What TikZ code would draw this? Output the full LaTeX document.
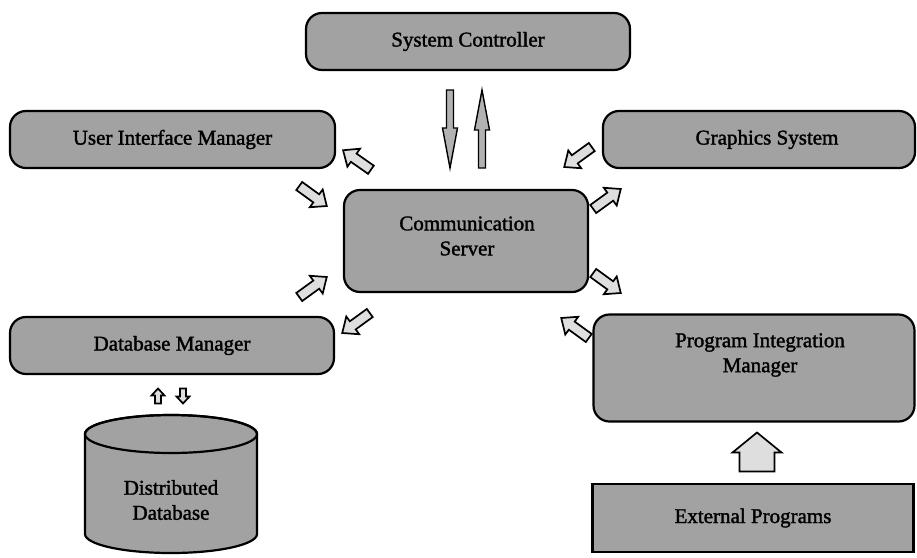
\documentclass[tikz,border=0pt]{standalone}
\usepackage{fontspec}
\setmainfont{Liberation Serif}
\newfontfamily\labelfont{Liberation Serif}[FakeBold=1.6]
\definecolor{boxgray}{RGB}{162,162,162}
\definecolor{arrowfill}{RGB}{222,222,222}
\begin{document}
\begin{tikzpicture}[x=1pt,y=-1pt,
  box/.style={draw=black, line width=2.2pt, rounded corners=16pt, fill=boxgray,
    inner sep=0pt, font=\labelfont\fontsize{21}{25}\selectfont, align=center},
  plainbox/.style={box, rounded corners=0pt},
  label/.style={inner sep=0pt, font=\labelfont\fontsize{21}{25}\selectfont, align=center},
  arrowline/.style={draw=black, line width=1.6pt, fill=arrowfill, line join=miter},
  % block arrow pointing along +x: length, shaft half width, head half width, head length
  pics/blockarrow/.style n args={4}{code={
    \filldraw[arrowline]
      (-#1/2,-#2) -- (#1/2-#4,-#2) -- (#1/2-#4,-#3) -- (#1/2,0)
      -- (#1/2-#4,#3) -- (#1/2-#4,#2) -- (-#1/2,#2) -- cycle;
  }},
]
\useasboundingbox (0,0) rectangle (917,557);

% main components
\node[box, minimum width=324pt, minimum height=57pt] (sc) at (468,41.5) {System Controller};
\node[box, minimum width=325pt, minimum height=57pt] (uim) at (172.5,139.5) {User Interface Manager};
\node[box, minimum width=312pt, minimum height=57pt] (gs) at (759,139.5) {\hspace*{16pt}Graphics System};
\node[box, minimum width=244pt, minimum height=102pt] (comm) at (466,241) {};
\node[label] (commtext) at (467,236) {Communication\\Server};
\node[box, minimum width=324pt, minimum height=57pt] (dbm) at (172,345.5) {Database Manager};
\node[box, minimum width=321pt, minimum height=107pt] (pim) at (754,368) {};
\node[label] (pimtext) at (760,355) {Program Integration\\Manager};
\node[plainbox, minimum width=321pt, minimum height=68pt] (ext) at (753,518) {External Programs};

% distributed database drawn as a cylinder
\filldraw[draw=black, line width=2.2pt, fill=boxgray]
  (85,434) -- (85,534) arc[start angle=180, end angle=0, x radius=86, y radius=19]
  -- (257,434) arc[start angle=0, end angle=-180, x radius=86, y radius=19] -- cycle;
\draw[line width=2.2pt] (171,434) ellipse[x radius=86, y radius=19];
\node[label] (ddb) at (171,500) {Distributed\\Database};

% controller link
\tikzset{arrowline/.append style={fill=arrowfill!80!black, line width=1.4pt}}
\pic[rotate=-90] (down) at (450,129) {blockarrow={78}{3.5}{7.5}{40}};
\pic[rotate=90] (up) at (482,129) {blockarrow={78}{3.5}{7.5}{40}};
\tikzset{arrowline/.append style={fill=arrowfill, line width=1.7pt}}

% exchange with the communication server
\pic[rotate=145] (a1) at (357,160) {blockarrow={34}{5}{11}{13}};
\pic[rotate=-36] (a2) at (313,196) {blockarrow={34}{5}{11}{13}};
\pic[rotate=36]  (a3) at (313,287) {blockarrow={34}{5}{11}{13}};
\pic[rotate=216] (a4) at (356,323) {blockarrow={34}{5}{11}{13}};
\pic[rotate=216] (a5) at (578,157) {blockarrow={34}{5}{11}{13}};
\pic[rotate=36]  (a6) at (607,199) {blockarrow={34}{5}{11}{13}};
\pic[rotate=-36] (a7) at (607,283) {blockarrow={34}{5}{11}{13}};
\pic[rotate=144] (a8) at (575,328) {blockarrow={34}{5}{11}{13}};

% database access
\pic[rotate=90]  (dbup) at (158,396) {blockarrow={15}{3}{6.5}{7}};
\pic[rotate=-90] (dbdown) at (183,396) {blockarrow={15}{3}{6.5}{7}};

% external programs feed
\pic[rotate=90] (feed) at (757,452) {blockarrow={39}{17.5}{24.5}{20}};
\end{tikzpicture}
\end{document}
